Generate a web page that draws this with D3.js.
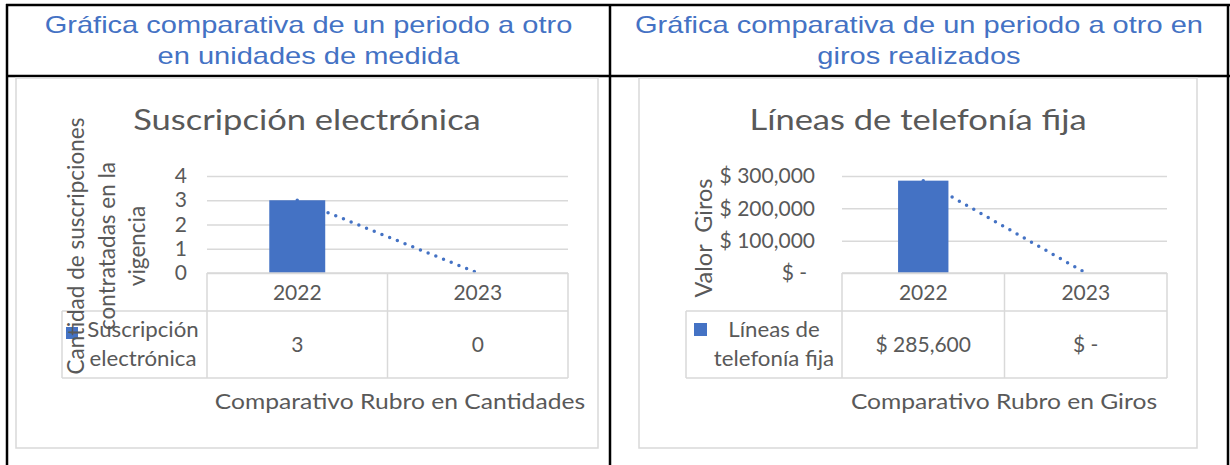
<!DOCTYPE html>
<html>
<head>
<meta charset="utf-8">
<script src="https://cdn.jsdelivr.net/npm/d3@7"></script>
<style>
  body { margin: 0; background: #fff; }
  svg { display: block; }
</style>
</head>
<body>
<svg id="page" width="1230" height="465"></svg>
<script>
// Values
const categories = ['2022', '2023'];
const subsValues = [3, 0];
const giroValues = [285600, 0];
const subsTicks = [0, 1, 2, 3, 4];
const giroTicks = [0, 100000, 200000, 300000];

const headerLeft = ['Gráfica comparativa de un periodo a otro', 'en unidades de medida'];
const headerRight = ['Gráfica comparativa de un periodo a otro en', 'giros realizados'];

const blue = '#4472C4';
const grey = '#595959';
const light = '#D9D9D9';
const chartFont = 'Lato, "Open Sans", sans-serif';

// the source picture is a bit wider than tall, so horizontal text gets stretched
function stretch(sel, sx) {
  sel.attr('transform', function() {
    const x = +this.getAttribute('x'), y = +this.getAttribute('y');
    return `translate(${x},${y}) scale(${sx},1) translate(${-x},${-y})`;
  });
}

const svg = d3.select('#page');
svg.append('rect').attr('width', 1230).attr('height', 465).attr('fill', '#fff');

// Word table holding the two charts
const frame = svg.append('g').attr('stroke', '#000').attr('stroke-width', 2.5);
frame.append('line').attr('x1', 6).attr('x2', 1230).attr('y1', 5).attr('y2', 5);
frame.append('line').attr('x1', 6).attr('x2', 1230).attr('y1', 76).attr('y2', 76);
[7, 610, 1228].forEach(x => {
  frame.append('line').attr('x1', x).attr('x2', x).attr('y1', 4).attr('y2', 465);
});

function buildHeader(lines, cx) {
  svg.append('g').selectAll('text').data(lines)
    .enter().append('text')
    .attr('x', cx)
    .attr('y', (d, i) => 33 + i * 31)
    .attr('text-anchor', 'middle')
    .attr('font-family', '"Liberation Sans", Arial, sans-serif')
    .attr('font-size', 24)
    .attr('fill', blue)
    .text(d => d)
    .call(stretch, 1.21);
}
buildHeader(headerLeft, 308.5);
buildHeader(headerRight, 919);

// One Excel chart: column + dotted trend line + data table underneath
function buildChart(cfg) {
  const g = svg.append('g').attr('font-family', chartFont).attr('fill', grey);

  g.append('rect')
    .attr('x', cfg.box[0]).attr('y', 78)
    .attr('width', cfg.box[1] - cfg.box[0]).attr('height', 370)
    .attr('fill', '#fff').attr('stroke', light).attr('stroke-width', 1.5);

  g.append('text')
    .attr('x', (cfg.box[0] + cfg.box[1]) / 2).attr('y', 130)
    .attr('text-anchor', 'middle').attr('font-size', 29)
    .text(cfg.title)
    .call(stretch, 1.19);

  const x = d3.scaleBand().domain(categories).range(cfg.plot).padding(0);
  const y = d3.scaleLinear().domain([0, d3.max(cfg.ticks)]).range([273, 176]);
  const plotW = cfg.plot[1] - cfg.plot[0];

  // gridlines
  const grid = g.append('g').attr('transform', `translate(${cfg.plot[0]},0)`)
    .call(d3.axisLeft(y).tickValues(cfg.ticks).tickSize(-plotW).tickFormat(''));
  grid.select('.domain').remove();
  grid.selectAll('line').attr('stroke', light).attr('stroke-width', 1.5);

  // tick labels
  const yAxis = g.append('g').attr('transform', `translate(${cfg.plot[0]},0)`)
    .call(d3.axisLeft(y).tickValues(cfg.ticks).tickSize(0).tickPadding(cfg.pad).tickFormat(cfg.fmt));
  yAxis.select('.domain').remove();
  yAxis.selectAll('text')
    .attr('font-family', chartFont).attr('font-size', 21).attr('fill', grey)
    .attr('dx', d => d === 0 ? cfg.zeroShift : 0);

  const pts = categories.map((c, i) => ({cat: c, val: cfg.values[i]}));

  // linear trend line (two points, so it runs through both)
  const trend = d3.line().x(d => x(d.cat) + x.bandwidth() / 2).y(d => y(d.val));
  g.append('path')
    .attr('d', trend(pts))
    .attr('fill', 'none').attr('stroke', blue).attr('stroke-width', 3.5)
    .attr('stroke-linecap', 'round').attr('stroke-dasharray', '0 8.3');

  const barW = x.bandwidth() * 0.31;
  g.selectAll('rect.bar').data(pts)
    .enter().append('rect')
    .attr('class', 'bar')
    .attr('x', d => x(d.cat) + (x.bandwidth() - barW) / 2)
    .attr('y', d => y(d.val))
    .attr('width', barW)
    .attr('height', d => y(0) - y(d.val))
    .attr('fill', blue);

  // data table
  const t = g.append('g').attr('stroke', light).attr('stroke-width', 1.5);
  t.append('line').attr('x1', cfg.plot[0]).attr('x2', cfg.plot[1]).attr('y1', 273).attr('y2', 273);
  [311, 378].forEach(yy => {
    t.append('line').attr('x1', cfg.tableLeft).attr('x2', cfg.plot[1]).attr('y1', yy).attr('y2', yy);
  });
  const edges = categories.map(c => x(c)).concat([cfg.plot[1]]);
  edges.forEach(xx => {
    t.append('line').attr('x1', xx).attr('x2', xx).attr('y1', 273).attr('y2', 378);
  });
  t.append('line').attr('x1', cfg.tableLeft).attr('x2', cfg.tableLeft).attr('y1', 311).attr('y2', 378);

  g.selectAll('text.year').data(categories)
    .enter().append('text')
    .attr('class', 'year')
    .attr('x', d => x(d) + x.bandwidth() / 2).attr('y', 300)
    .attr('text-anchor', 'middle').attr('font-size', 21)
    .text(d => d);

  g.selectAll('text.val').data(pts)
    .enter().append('text')
    .attr('class', 'val')
    .attr('x', d => x(d.cat) + x.bandwidth() / 2).attr('y', 352)
    .attr('text-anchor', 'middle').attr('font-size', 21)
    .text(d => cfg.fmt(d.val));

  // legend key inside the table
  g.append('rect')
    .attr('x', cfg.key[0]).attr('y', cfg.key[1])
    .attr('width', cfg.key[2]).attr('height', cfg.key[2])
    .attr('fill', blue);
  g.append('g').selectAll('text').data(cfg.legend)
    .enter().append('text')
    .attr('x', cfg.legendX).attr('y', (d, i) => 337 + i * 29)
    .attr('text-anchor', 'middle').attr('font-size', 21)
    .text(d => d)
    .call(stretch, 1.06);

  g.append('text')
    .attr('x', cfg.xTitleX).attr('y', 409)
    .attr('text-anchor', 'middle').attr('font-size', 22)
    .text(cfg.xTitle)
    .call(stretch, 1.12);

  // rotated value-axis title, one text per line
  cfg.yTitle.forEach((line, i) => {
    g.append('text')
      .attr('transform', `translate(${cfg.yTitleX[i]},${cfg.yTitleY}) rotate(-90)`)
      .attr('text-anchor', 'middle').attr('font-size', cfg.yTitleSize)
      .attr('xml:space', 'preserve')
      .text(line);
  });
}

buildChart({
  box: [16, 598],
  plot: [207, 568],
  tableLeft: 62,
  title: 'Suscripción electrónica',
  values: subsValues,
  ticks: subsTicks,
  fmt: d3.format('d'),
  pad: 20,
  zeroShift: 0,
  key: [66, 327, 12],
  legend: ['Suscripción', 'electrónica'],
  legendX: 143,
  xTitle: 'Comparativo Rubro en Cantidades',
  xTitleX: 400,
  yTitle: ['Cantidad de suscripciones', 'contratadas en la', 'vigencia'],
  yTitleX: [84, 115, 145],
  yTitleY: 246,
  yTitleSize: 22.5
});

buildChart({
  box: [639, 1197],
  plot: [842, 1167],
  tableLeft: 686,
  title: 'Líneas de telefonía fija',
  values: giroValues,
  ticks: giroTicks,
  fmt: d => d === 0 ? '$ -' : '$ ' + d3.format(',')(d),
  pad: 27,
  zeroShift: -8,
  key: [694, 323, 13],
  legend: ['Líneas de', 'telefonía fija'],
  legendX: 774,
  xTitle: 'Comparativo Rubro en Giros',
  xTitleX: 1004,
  yTitle: ['Valor  Giros'],
  yTitleX: [712],
  yTitleY: 238,
  yTitleSize: 23.5
});
</script>
</body>
</html>
